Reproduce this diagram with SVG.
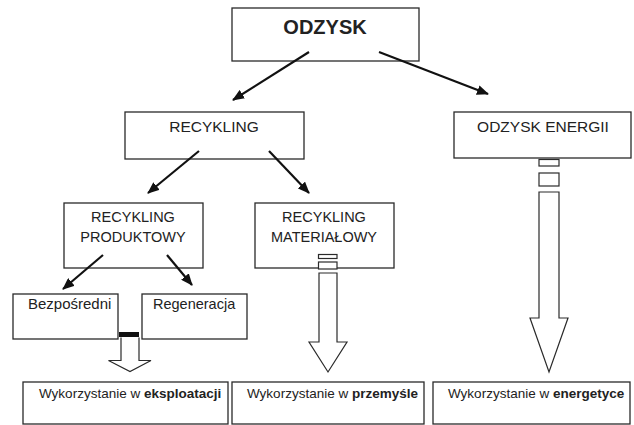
<svg xmlns="http://www.w3.org/2000/svg" width="634" height="425" viewBox="0 0 634 425">
<style>
.box{fill:#fff;stroke:#2a2a2a;stroke-width:1.3}
.t{font-family:"Liberation Sans",Arial,sans-serif;fill:#222}
.c{stroke:#111;stroke-width:2.2;fill:none}
.blk{fill:#fff;stroke:#2a2a2a;stroke-width:1.2}
</style>
<defs>
<marker id="ah" viewBox="0 0 12 10" refX="11" refY="5" markerWidth="12" markerHeight="10" markerUnits="userSpaceOnUse" orient="auto">
<path d="M0,0 L12,5 L0,10 Z" fill="#111"/>
</marker>
</defs>
<g id="odzysk"><rect class="box" x="232" y="8" width="187" height="53"/><text class="t" x="325" y="34" font-size="20" font-weight="bold" text-anchor="middle">ODZYSK</text></g>
<g id="recykling"><rect class="box" x="125" y="112" width="179" height="47"/><text class="t" x="214" y="132" font-size="15.5" text-anchor="middle">RECYKLING</text></g>
<g id="energii"><rect class="box" x="454" y="112" width="177" height="46"/><text class="t" x="543" y="132" font-size="15.5" text-anchor="middle">ODZYSK ENERGII</text></g>
<g id="produktowy"><rect class="box" x="64" y="203" width="139" height="65"/><text class="t" font-size="14.5" text-anchor="middle"><tspan x="133" y="222">RECYKLING</tspan><tspan x="133" y="242">PRODUKTOWY</tspan></text></g>
<g id="materialowy"><rect class="box" x="255" y="203" width="139" height="65"/><text class="t" font-size="14.5" text-anchor="middle"><tspan x="324" y="222">RECYKLING</tspan><tspan x="324" y="242">MATERIAŁOWY</tspan></text></g>
<g id="bezposredni"><rect class="box" x="13" y="294" width="105" height="45"/><text class="t" x="28" y="309" font-size="15">Bezpośredni</text></g>
<g id="regeneracja"><rect class="box" x="142" y="294" width="105" height="45"/><text class="t" x="153" y="309" font-size="14.5">Regeneracja</text></g>
<g id="eksploatacja"><rect class="box" x="23" y="382" width="205" height="42"/><text class="t" x="39" y="398" font-size="13.5">Wykorzystanie w <tspan font-weight="bold">eksploatacji</tspan></text></g>
<g id="przemysl"><rect class="box" x="232" y="382" width="192" height="42"/><text class="t" x="247" y="398" font-size="13.5">Wykorzystanie w <tspan font-weight="bold">przemyśle</tspan></text></g>
<g id="energetyka"><rect class="box" x="433" y="382" width="197" height="42"/><text class="t" x="448" y="398" font-size="13.5">Wykorzystanie w <tspan font-weight="bold">energetyce</tspan></text></g>
<g id="connectors">
<line class="c" x1="309" y1="52" x2="233" y2="100" marker-end="url(#ah)"/>
<line class="c" x1="379" y1="52" x2="488" y2="94" marker-end="url(#ah)"/>
<line class="c" x1="199" y1="151" x2="148" y2="193" marker-end="url(#ah)"/>
<line class="c" x1="269" y1="151" x2="309" y2="193" marker-end="url(#ah)"/>
<line class="c" x1="103" y1="255" x2="63" y2="289" marker-end="url(#ah)"/>
<line class="c" x1="167" y1="255" x2="192" y2="285" marker-end="url(#ah)"/>
<rect x="119" y="332" width="20" height="5" fill="#111"/>
<path class="blk" d="M121,337.5 V360.5 H108.5 L130,371.5 L151,360.5 H139 V337.5"/>
<rect class="blk" x="318.5" y="254.5" width="18.5" height="4"/>
<rect class="blk" x="318.5" y="262" width="18.5" height="7"/>
<path class="blk" d="M319,273 H337 V342 H347 L328,372 L309,342 H319 Z"/>
<rect class="blk" x="539" y="159.5" width="20" height="6.5"/>
<rect class="blk" x="539" y="173" width="20" height="13"/>
<path class="blk" d="M539,192 H559 V318 H568 L549,372 L530,318 H539 Z"/>
</g>
</svg>
